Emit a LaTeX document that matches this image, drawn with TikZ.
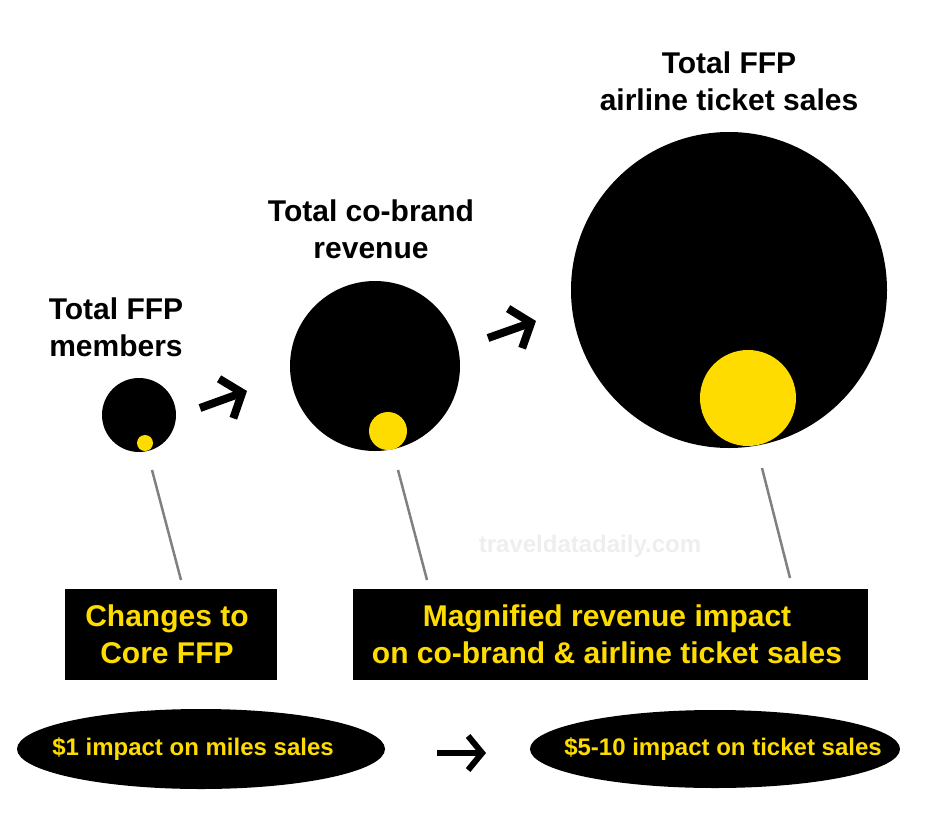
\documentclass[tikz,border=0pt]{standalone}
\usepackage{fontspec}
\setmainfont{Liberation Sans}
\usetikzlibrary{arrows.meta,shapes.geometric}
\definecolor{ffpyellow}{HTML}{FFDC00}
\definecolor{markgray}{HTML}{EEEEEE}

\begin{document}
\begin{tikzpicture}[x=1pt, y=-1pt, bigdot/.style={ circle, fill=black,
    inner sep=0pt }, smalldot/.style={ circle, fill=ffpyellow, inner
    sep=0pt }, heading/.style={ align=center, font=\bfseries\fontsize{30}{37}\selectfont },
    tag/.style={ fill=black, inner sep=0pt }, tagtext/.style={
    text=ffpyellow, align=center,
    font=\bfseries\fontsize{30}{37}\selectfont }, oval/.style={ ellipse,
    fill=black, inner sep=0pt }, ovaltext/.style={ text=ffpyellow,
    font=\bfseries\fontsize{24}{28}\selectfont }, pointer/.style={ line
    width=8pt, -{Straight Barb[length=17pt,width=42pt]} }, leader/.style={
    draw=gray, line width=2.5pt } ]
  \useasboundingbox (0,0) rectangle (929,830);

  % circles, inner circles and leader lines
  \foreach \n/\x/\y/\r/\u/\v/\s in {1/139/415/74/145/443/16,
    2/375/366/170/388/431/38, 3/729/290/316/748/398/96}
  {
    \node[bigdot, minimum size=\r] (c\n) at (\x,\y) {};
    \node[smalldot, minimum size=\s] (y\n) at (\u,\v) {};
  }

  \node[heading] (h1) at (116,327) {Total FFP\\members};
  \node[heading] (h2) at (371,229) {Total co-brand\\revenue};
  \node[heading] (h3) at (729,81) {Total FFP\\airline ticket sales};

  \coordinate (a1) at (200,408); \coordinate (b1) at (247,391);
  \coordinate (a2) at (488,338); \coordinate (b2) at (536,321);
  \draw[pointer] (a1) -- (b1);
  \draw[pointer] (a2) -- (b2);

  \node[font=\bfseries\fontsize{24}{28}\selectfont, text=markgray] (wm)
  at (590,546) {traveldatadaily.com};

  \node[tag, minimum width=212, minimum height=91] (k1) at (171,634.5) {};
  \node[tagtext] (kt1) at (167,634.5) {Changes to\\Core FFP};
  \node[tag, minimum width=515, minimum height=91] (k2) at (610.5,634.5) {};
  \node[tagtext] (kt2) at (607,634.5)
  {Magnified revenue impact\\on co-brand \& airline ticket sales};

  \foreach \i/\x/\y/\X/\Y in {1/152/470/181/580, 2/398/470/427/580,
    3/762/468/790/578}
  {
    \coordinate (l\i) at (\x,\y); \coordinate (m\i) at (\X,\Y);
    \draw[leader] (l\i) -- (m\i);
  }

  \node[oval, minimum width=368, minimum height=80] (e1) at (201,749) {};
  \node[ovaltext] (s1) at (193,749) {\$1 impact on miles sales};
  \node[oval, minimum width=370, minimum height=78] (e2) at (715,749) {};
  \node[ovaltext] (s2) at (723,749) {\$5-10 impact on ticket sales};
  \coordinate (a3) at (437,753); \coordinate (b3) at (486,753);
  \draw[pointer, line width=6pt, -{Straight Barb[length=14pt,width=34pt]}]
  (a3) -- (b3);

\end{tikzpicture}
\end{document}
